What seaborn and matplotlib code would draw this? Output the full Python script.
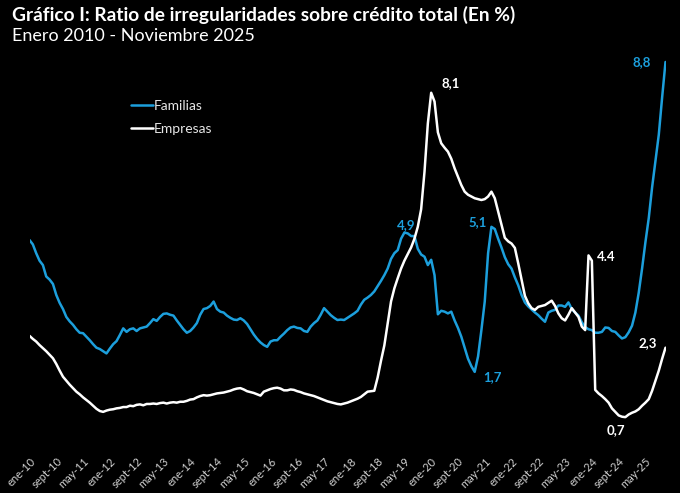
import numpy as np
import pandas as pd
import matplotlib
matplotlib.use("Agg")
import matplotlib.pyplot as plt
import seaborn as sns

# Ratio de irregularidades (%) - mensual, ene-2010 a nov-2025 (191 meses)
familias = [
    4.75, 4.65, 4.45, 4.28, 4.18, 3.92, 3.85, 3.75, 3.50, 3.32, 3.18, 3.00,
    2.90, 2.82, 2.72, 2.64, 2.63, 2.55, 2.47, 2.38, 2.30, 2.27, 2.22, 2.17,
    2.28, 2.38, 2.45, 2.59, 2.74, 2.66, 2.72, 2.74, 2.68, 2.74, 2.76, 2.78,
    2.86, 2.95, 2.91, 3.00, 3.07, 3.08, 3.05, 3.03, 2.92, 2.82, 2.72, 2.64,
    2.68, 2.76, 2.86, 3.05, 3.18, 3.20, 3.25, 3.35, 3.18, 3.12, 3.10, 3.03,
    2.98, 2.94, 2.93, 2.97, 2.92, 2.84, 2.72, 2.60, 2.50, 2.42, 2.36, 2.32,
    2.44, 2.47, 2.47, 2.55, 2.62, 2.70, 2.76, 2.78, 2.75, 2.74, 2.68, 2.66,
    2.78, 2.86, 2.92, 3.05, 3.20, 3.12, 3.04, 2.98, 2.93, 2.94, 2.93, 2.98,
    3.03, 3.08, 3.14, 3.28, 3.39, 3.44, 3.50, 3.58, 3.70, 3.82, 3.95, 4.10,
    4.32, 4.45, 4.52, 4.78, 4.92, 4.90, 4.84, 4.84, 4.55, 4.42, 4.37, 4.18,
    4.30, 3.95, 3.06, 3.14, 3.12, 3.08, 3.12, 2.92, 2.75, 2.55, 2.30, 2.05,
    1.88, 1.75, 2.10, 2.70, 3.35, 4.45, 5.05, 5.00, 4.78, 4.58, 4.36, 4.20,
    4.10, 3.90, 3.72, 3.50, 3.33, 3.24, 3.17, 3.10, 3.04, 2.96, 2.89, 3.10,
    3.14, 3.16, 3.26, 3.26, 3.23, 3.33, 3.18, 3.10, 3.03, 2.88, 2.77, 2.72,
    2.70, 2.64, 2.64, 2.66, 2.76, 2.75, 2.68, 2.66, 2.58, 2.51, 2.54, 2.65,
    2.80, 3.10, 3.55, 4.10, 4.70, 5.25, 5.95, 6.55, 7.15, 8.00, 8.80,
]

empresas = [
    2.57, 2.50, 2.44, 2.36, 2.29, 2.22, 2.14, 2.06, 1.93, 1.78, 1.64, 1.55,
    1.46, 1.38, 1.30, 1.24, 1.17, 1.11, 1.05, 0.98, 0.91, 0.86, 0.84, 0.87,
    0.89, 0.90, 0.92, 0.93, 0.95, 0.95, 0.98, 0.97, 1.00, 1.01, 0.99, 1.02,
    1.02, 1.03, 1.02, 1.04, 1.05, 1.03, 1.05, 1.06, 1.05, 1.07, 1.07, 1.09,
    1.12, 1.13, 1.17, 1.20, 1.22, 1.21, 1.22, 1.24, 1.26, 1.27, 1.28, 1.30,
    1.32, 1.35, 1.37, 1.38, 1.35, 1.31, 1.29, 1.27, 1.24, 1.21, 1.30, 1.33,
    1.36, 1.38, 1.39, 1.37, 1.33, 1.33, 1.35, 1.34, 1.31, 1.29, 1.26, 1.24,
    1.22, 1.20, 1.17, 1.14, 1.11, 1.08, 1.06, 1.04, 1.02, 1.01, 1.03, 1.05,
    1.08, 1.11, 1.14, 1.18, 1.24, 1.30, 1.31, 1.32, 1.62, 2.00, 2.35, 2.85,
    3.35, 3.65, 3.88, 4.10, 4.28, 4.43, 4.58, 4.78, 5.05, 5.45, 6.30, 7.40,
    8.10, 7.90, 7.20, 6.95, 6.85, 6.76, 6.60, 6.38, 6.19, 6.00, 5.85, 5.78,
    5.74, 5.70, 5.68, 5.66, 5.68, 5.74, 5.85, 5.70, 5.40, 5.10, 4.80, 4.72,
    4.67, 4.57, 4.22, 3.85, 3.48, 3.31, 3.20, 3.16, 3.23, 3.25, 3.27, 3.32,
    3.37, 3.25, 3.08, 2.97, 2.92, 3.05, 3.20, 3.10, 3.00, 2.78, 2.70, 4.40,
    4.28, 1.34, 1.26, 1.20, 1.13, 1.05, 0.92, 0.84, 0.76, 0.73, 0.72, 0.78,
    0.82, 0.85, 0.90, 0.98, 1.05, 1.13, 1.32, 1.55, 1.78, 2.05, 2.30,
]

# etiquetas del eje x, una cada 8 meses
tick_labels = [
    "ene-10", "sept-10", "may-11", "ene-12", "sept-12", "may-13", "ene-14",
    "sept-14", "may-15", "ene-16", "sept-16", "may-17", "ene-18", "sept-18",
    "may-19", "ene-20", "sept-20", "may-21", "ene-22", "sept-22", "may-23",
    "ene-24", "sept-24", "may-25",
]

# valores destacados: (serie, mes, valor, texto)
anotaciones = [
    ("Familias", 190, 8.8, "8,8"),
    ("Empresas", 120, 8.1, "8,1"),
    ("Familias", 112, 4.9, "4,9"),
    ("Familias", 138, 5.1, "5,1"),
    ("Familias", 133, 1.7, "1,7"),
    ("Empresas", 167, 4.4, "4.4"),
    ("Empresas", 190, 2.3, "2,3"),
    ("Empresas", 178, 0.7, "0,7"),
]

azul = "#1c9fdc"
colores = {"Familias": azul, "Empresas": "#ffffff"}

df = pd.DataFrame({
    "mes": list(range(len(familias))) * 2,
    "valor": familias + empresas,
    "serie": ["Familias"] * len(familias) + ["Empresas"] * len(empresas),
})

sns.set_theme(style="dark")
plt.rcParams["font.family"] = ["Lato", "DejaVu Sans"]

fig = plt.figure(figsize=(6.8, 4.93), dpi=100, facecolor="black")
ax = fig.add_axes([29.5 / 680, 1 - 448.8 / 493, 636 / 680, 395.6 / 493])
ax.set_facecolor("black")

sns.lineplot(data=df, x="mes", y="valor", hue="serie", palette=colores,
             hue_order=["Familias", "Empresas"], linewidth=1.8, ax=ax)

ax.set_xlim(0, 190)
ax.set_ylim(0, 9)
ax.set_yticks([])
ax.set_xticks(range(0, 8 * len(tick_labels), 8))
ax.set_xticklabels(tick_labels, rotation=45, ha="right", rotation_mode="anchor",
                   fontsize=8, color="#d0d0d0")
ax.tick_params(axis="x", length=0, pad=5)
ax.set_xlabel("")
ax.set_ylabel("")
ax.grid(False)
for s in ax.spines.values():
    s.set_visible(False)

# etiquetas de valores
offsets = {"8,8": (-17, 0), "8,1": (14, 7), "4,9": (1, 6), "5,1": (-10, 2),
           "1,7": (13, -2), "4.4": (13, -1), "2,3": (-13, 3), "0,7": (-7, -9)}
for serie, mes, val, txt in anotaciones:
    dx, dy = offsets[txt]
    ax.annotate(txt, xy=(mes, val), xytext=(dx, dy), textcoords="offset points",
                ha="center", va="center", fontsize=9.5, fontweight="bold",
                color=colores[serie])

leg = ax.legend(loc="upper left", bbox_to_anchor=(118 / 680, 1 - 87 / 493),
                bbox_transform=fig.transFigure, frameon=False, fontsize=10,
                handlelength=1.6, handletextpad=0.1, labelspacing=0.85)
for t in leg.get_texts():
    t.set_color("#e6e6e6")

fig.text(12 / 680, 1 - 6 / 493, "Gráfico I: Ratio de irregularidades sobre crédito total (En %)",
         ha="left", va="top", fontsize=13.8, fontweight="bold", color="white")
fig.text(12 / 680, 1 - 28 / 493, "Enero 2010 - Noviembre 2025",
         ha="left", va="top", fontsize=13, color="white")

fig.savefig("out.png", dpi=100, facecolor="black")
